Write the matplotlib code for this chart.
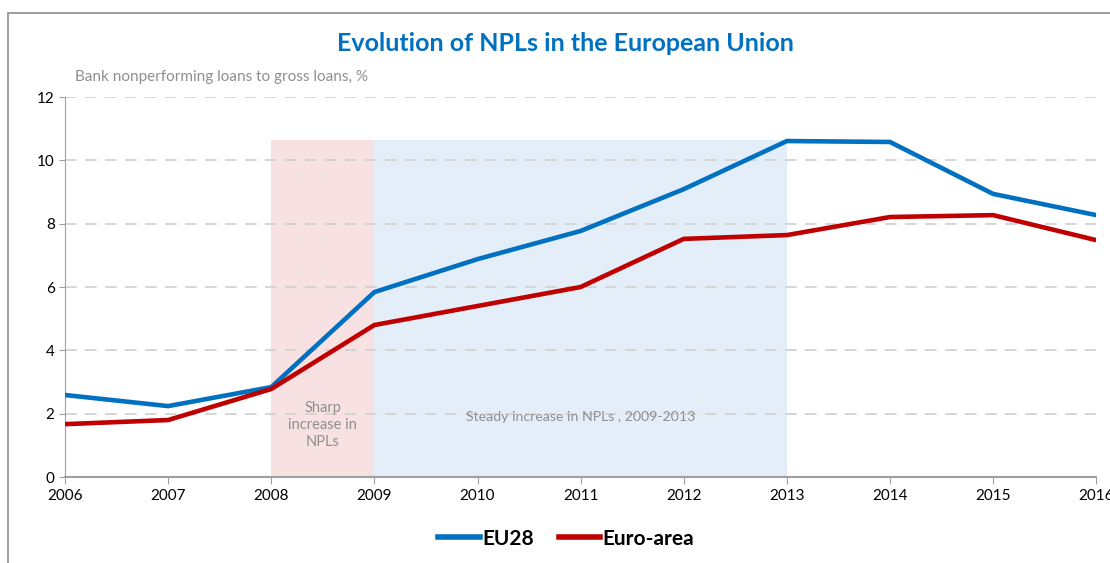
import matplotlib
matplotlib.use('Agg')
import matplotlib.pyplot as plt
from matplotlib.patches import Rectangle
from matplotlib.lines import Line2D

years = [2006, 2007, 2008, 2009, 2010, 2011, 2012, 2013, 2014, 2015, 2016]
eu28 = [2.59, 2.24, 2.84, 5.84, 6.88, 7.77, 9.09, 10.61, 10.58, 8.94, 8.27]
euro_area = [1.67, 1.80, 2.78, 4.80, 5.40, 6.00, 7.52, 7.64, 8.21, 8.27, 7.48]
y_ticks = [0, 2, 4, 6, 8, 10, 12]

plt.rcParams['font.family'] = ['Lato', 'DejaVu Sans']

fig = plt.figure(figsize=(11.1, 5.63), dpi=100)
ax = fig.add_axes([0.0586, 0.1527, 0.929, 0.6750])

# outer chart border
fig.patches.append(Rectangle((0.0072, -0.1), 1.2, 1.077, transform=fig.transFigure,
                             fill=False, edgecolor='#8c8c8c', linewidth=1.2))

# shaded periods
ax.fill_between([2008, 2009], 0, 10.65, color='#f7e1e2', linewidth=0, zorder=1)
ax.fill_between([2009, 2013], 0, 10.65, color='#e4eef8', linewidth=0, zorder=1)

ax.plot(years, eu28, color='#0070c0', linewidth=3.3, zorder=4, solid_capstyle='butt')
ax.plot(years, euro_area, color='#c00000', linewidth=3.3, zorder=4, solid_capstyle='butt')

ax.set_xlim(2006, 2016)
ax.set_ylim(0, 12)
ax.set_xticks(years)
ax.set_yticks(y_ticks)
ax.tick_params(axis='both', labelsize=11, colors='#a0a0a0', labelcolor='black', length=5)
ax.tick_params(axis='y', length=4)

for y in y_ticks[1:]:
    ax.axhline(y, color='#d0d0d0', linewidth=1.2, linestyle=(0, (7, 5)), zorder=2)

for s in ['top', 'right']:
    ax.spines[s].set_visible(False)
ax.spines['left'].set_color('#a0a0a0')
ax.spines['bottom'].set_color('#a0a0a0')
ax.spines['bottom'].set_linewidth(1.5)

ax.text(2008.5, 1.64, 'Sharp\nincrease in\nNPLs', ha='center', va='center',
        fontsize=10.5, color='#8f8f8f', linespacing=1.3, zorder=3)
ax.text(2011.0, 1.9, 'Steady increase in NPLs , 2009-2013', ha='center', va='center',
        fontsize=10.2, color='#8f8f8f', zorder=3)

fig.text(0.509, 0.922, 'Evolution of NPLs in the European Union', ha='center', va='center',
         fontsize=18, fontweight='bold', color='#0070c0')
fig.text(0.0676, 0.863, 'Bank nonperforming loans to gross loans, %', ha='left', va='center',
         fontsize=11, color='#8f8f8f')

handles = [Line2D([], [], color='#0070c0', linewidth=4),
           Line2D([], [], color='#c00000', linewidth=4)]
fig.legend(handles, ['EU28', 'Euro-area'], loc='center', bbox_to_anchor=(0.51, 0.043),
           ncol=2, frameon=False, prop={'size': 15, 'weight': 'bold'},
           handlelength=2.0, handletextpad=0.1, columnspacing=1.2)

fig.savefig('out.png', dpi=100)
